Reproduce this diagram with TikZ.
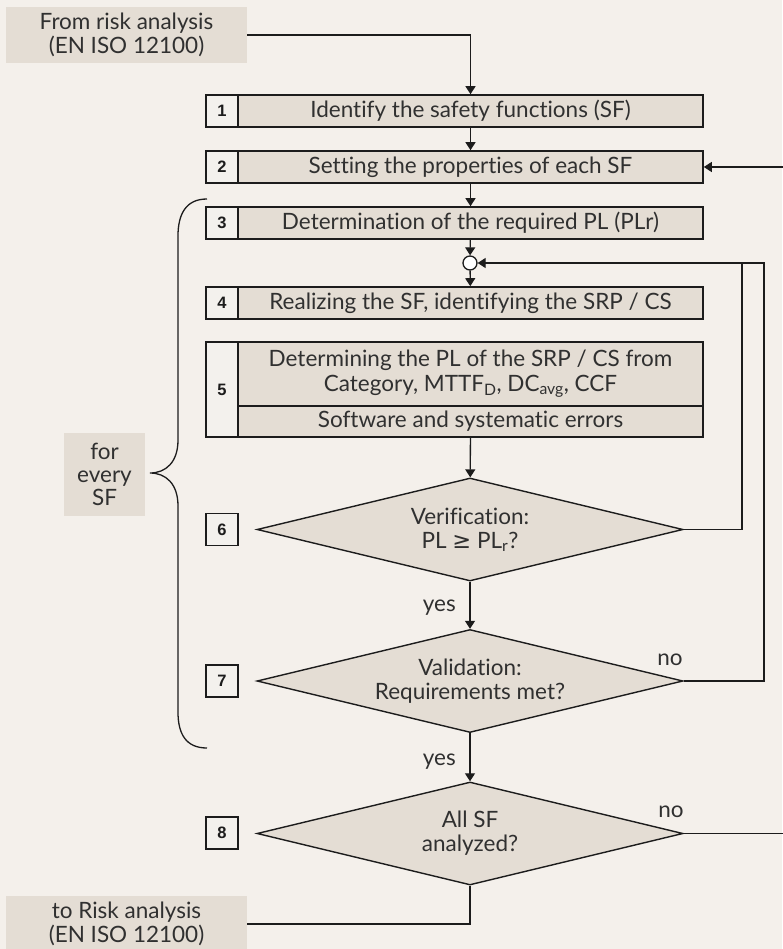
\documentclass[tikz,border=0pt]{standalone}
\usepackage{fontspec}
\setmainfont{Lato}[Ligatures=CommonOff]
\newfontfamily\numfont{Liberation Sans}
\newfontfamily\symfont{DejaVu Sans}
\usetikzlibrary{shapes.geometric,arrows.meta}
\definecolor{paper}{RGB}{244,240,235}
\definecolor{tan}{RGB}{228,221,212}
\definecolor{numfill}{RGB}{243,241,237}
\definecolor{ink}{RGB}{28,28,28}
\definecolor{txt}{RGB}{48,48,48}
\begin{document}
\begin{tikzpicture}[x=1pt,y=-1pt,
    every node/.style={font=\fontsize{22.5}{24}\selectfont,text=txt,inner sep=0pt},
    num/.style={draw=ink,line width=1.6pt,fill=numfill,minimum width=32pt,minimum height=32pt,
      font=\numfont\bfseries\fontsize{16.5}{18}\selectfont,text=ink},
    task/.style={draw=ink,line width=1.6pt,fill=tan,minimum width=465pt,minimum height=32pt},
    ask/.style={diamond,draw=ink,line width=1.4pt,fill=tan,aspect=4.1,
      minimum width=426pt,minimum height=103pt,align=center},
    ext/.style={fill=tan,minimum width=241pt,minimum height=56pt,align=center},
    flow/.style={draw=ink,line width=1.3pt},
    arr/.style={flow,-{Triangle[length=8pt,width=10pt]}}]
  \fill[paper] (0,0) rectangle (782,949);
  \useasboundingbox (0,0) rectangle (782,949);
  \draw
    (126.5,35) node[ext] (src) {From risk analysis\\(EN ISO 12100)}
    (126.5,924) node[ext] (dst) {to Risk analysis\\(EN ISO 12100)}
    (104.5,474.5) node[ext,minimum width=81pt,minimum height=83pt,
      font=\fontsize{22.5}{23}\selectfont] (every) {for\\every\\SF}
    (470.5,111) node[task] (b1) {Identify the safety functions (SF)}
    (470.5,167) node[task] (b2) {Setting the properties of each SF}
    (470.5,223) node[task] (b3) {Determination of the required PL (PLr)}
    (470,263) node[draw=ink,line width=1.3pt,fill=white,circle,minimum size=14pt] (jn) {}
    (470.5,303) node[task] (b4) {Realizing the SF, identifying the SRP / CS}
    (470.5,374) node[task,minimum height=64pt,align=center,
      font=\fontsize{22.5}{25}\selectfont] (b5a)
      {Determining the PL of the SRP / CS from\\Category, MTTF\textsubscript{D}, DC\textsubscript{avg}, CCF}
    (470.5,421.5) node[task,minimum height=31pt] (b5b) {Software and systematic errors}
    (470,529.5) node[ask] (d6) {Verification:\\PL {\symfont ≥} PL\textsubscript{r}?}
    (470,681) node[ask] (d7) {Validation:\\Requirements met?}
    (470,833.5) node[ask] (d8) {All SF\\analyzed?}
    (222,111) node[num] (n1) {1}
    (222,167) node[num] (n2) {2}
    (222,223) node[num] (n3) {3}
    (222,303) node[num] (n4) {4}
    (222,389.5) node[num,minimum height=95pt] (n5) {5}
    (222,529.5) node[num] (n6) {6}
    (222,681) node[num] (n7) {7}
    (222,833) node[num] (n8) {8};
  % labels on the branches
  \node[anchor=east] (yes6) at (456,608) {yes};
  \node[anchor=east] (yes7) at (456,762) {yes};
  \node (no7) at (670,660) {no};
  \node (no8) at (671,812) {no};
  % corners of the return loops
  \coordinate (loopA) at (742,263);
  \coordinate (loopB) at (764,263);
  \coordinate (loopC) at (786,167);
  \begin{scope}[arr]
    \draw (src.east) -| (b1.north);
    \draw (b1) to (b2);
    \draw (b2) to (b3);
    \draw (b3) to (jn);
    \draw (jn) to (b4);
    \draw (b5b) to (d6);
    \draw (d6) to (d7);
    \draw (d7) to (d8);
    \draw (d7.east) -| (loopB) -- (jn.east);
    \draw (d8.east) -| (loopC) -- (b2.east);
  \end{scope}
  \draw[flow] (d6.east) -| (loopA);
  \draw[flow] (d8.south) |- (dst.east);
  % brace round steps 3 to 7
  \draw[flow] (207,199) .. controls (186,199) and (178,214) .. (178,236)
    -- (178,440) .. controls (178,462) and (166,473) .. (150,473)
    .. controls (166,473) and (178,484) .. (178,506)
    -- (178,712) .. controls (178,734) and (186,748) .. (207,748);
\end{tikzpicture}
\end{document}
